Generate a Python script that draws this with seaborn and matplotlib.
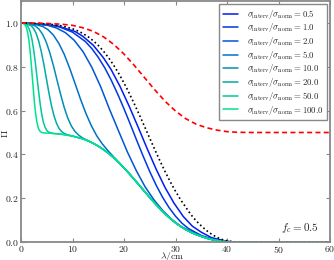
import pandas as pd
import seaborn as sns
from matplotlib import pyplot as plt

# curve labels (sigma_interv / sigma_norm)
ratios = [0.5, 1.0, 2.0, 5.0, 10.0, 20.0, 50.0, 100.0]

# values, one list pair per curve
lam_r0p5 = [0, 7, 10.5, 12, 14, 16, 17.5, 19.25, 21, 22.75, 24.5, 26.25, 28, 29.75, 31.5, 33.25, 35, 37, 40]
pi_r0p5 = [1.0, 0.987, 0.961, 0.939, 0.899, 0.841, 0.787, 0.709, 0.620, 0.524, 0.426, 0.332, 0.2475,
           0.176, 0.117, 0.073, 0.045, 0.020, 0.003]

lam_r1 = [0, 5, 7.5, 10, 12.5, 13.75, 15, 16.25, 17.5, 18.75, 20, 21.25, 22.5, 23.75, 25, 26.25, 27.5,
          28.75, 30, 31.25, 32.5, 35, 37.5]
pi_r1 = [1.0, 0.993, 0.9815, 0.958, 0.915, 0.883, 0.843, 0.7955, 0.7396, 0.6765, 0.608, 0.536, 0.462, 0.390,
         0.3215, 0.259, 0.204, 0.157, 0.118, 0.086, 0.062, 0.030, 0.0105]

lam_r2 = [0, 3.44, 5.16, 6.88, 8.6, 10.32, 12.04, 13.76, 15.48, 17.2, 18.92, 20.64, 22.36, 24.08, 25.8,
          27.52, 29.24, 30.96, 34.4]
pi_r2 = [1.0, 0.995, 0.989, 0.977, 0.956, 0.921, 0.869, 0.797, 0.708, 0.605, 0.508, 0.412, 0.327, 0.2525,
         0.193, 0.144, 0.104, 0.0726, 0.031]

lam_r5 = [0, 2.1, 4.2, 5.25, 6.3, 7.35, 8.4, 9.45, 10.5, 11.55, 12.6, 13.65, 14.7, 15.75, 16.8, 17.85, 18.9, 21]
pi_r5 = [1.0, 0.997, 0.984, 0.969, 0.944, 0.9066, 0.856, 0.793, 0.723, 0.652, 0.587, 0.531, 0.485, 0.449,
         0.419, 0.392, 0.3665, 0.3127]

lam_r10 = [0, 1.39, 2.78, 3.48, 4.18, 4.87, 5.57, 6.26, 6.96, 7.66, 8.35, 9.05, 9.74, 10.44, 11.14, 11.83,
           12.53, 13.92]
pi_r10 = [1.0, 0.997, 0.986, 0.972, 0.9485, 0.914, 0.8656, 0.8073, 0.7418, 0.6765, 0.617, 0.5677, 0.531,
          0.506, 0.489, 0.477, 0.468, 0.452]

lam_r20 = [0, 0.98, 1.97, 2.46, 2.95, 3.44, 3.94, 4.43, 4.92, 5.41, 5.9, 6.4, 6.89, 7.38, 7.87, 8.36, 8.86, 9.84]
pi_r20 = [1.0, 0.998, 0.987, 0.974, 0.951, 0.9165, 0.868, 0.811, 0.7464, 0.6816, 0.6234, 0.5762, 0.542,
          0.5187, 0.5044, 0.496, 0.4909, 0.4845]

lam_r50 = [0, 0.62, 1.24, 1.56, 1.87, 2.18, 2.49, 2.8, 3.11, 3.42, 3.73, 4.04, 4.35, 4.67, 4.98, 5.29, 5.6, 6.22]
pi_r50 = [1.0, 0.998, 0.988, 0.974, 0.952, 0.918, 0.871, 0.814, 0.75, 0.686, 0.628, 0.580, 0.546, 0.524,
          0.5098, 0.5028, 0.4995, 0.496]

lam_r100 = [0, 0.44, 0.88, 1.1, 1.32, 1.54, 1.76, 1.98, 2.2, 2.42, 2.64, 2.86, 3.08, 3.3, 3.52, 3.74, 3.96, 4.4]
pi_r100 = [1.0, 0.998, 0.988, 0.974, 0.952, 0.918, 0.871, 0.814, 0.75, 0.686, 0.628, 0.582, 0.548, 0.525,
           0.5115, 0.5043, 0.501, 0.498]

# common lower branch (f_c part) the curves run into
lam_tail = [6, 8, 10, 12, 13, 14, 15, 16, 17, 18, 19, 20, 21, 22, 23, 24, 25, 26, 27, 28, 29, 30, 31, 32,
            33, 34, 35, 36, 37, 38, 39, 40, 41, 42, 45, 50, 60]
pi_tail = [0.496, 0.4916, 0.4838, 0.4709, 0.4619, 0.4509, 0.4377, 0.4224, 0.4046, 0.3846, 0.3624, 0.3383,
           0.3127, 0.2859, 0.2583, 0.2307, 0.2034, 0.1769, 0.1518, 0.1284, 0.1071, 0.088, 0.0713, 0.0568,
           0.0445, 0.0343, 0.026, 0.018, 0.012, 0.0075, 0.004, 0.002, 0.001, 0.0003, 0.0, 0.0, 0.0]

# no interference (dotted)
lam_plain = [0, 2, 4, 6, 8, 10, 11, 12, 13, 14, 15, 16, 17, 18, 19, 20, 21, 22, 23, 24, 25, 26, 27, 28, 29,
             30, 31, 32, 33, 34, 35, 36, 37, 38, 39, 40, 41, 42, 45, 50, 60]
pi_plain = [1.0, 0.9987, 0.9969, 0.9932, 0.9861, 0.9734, 0.9641, 0.9522, 0.9374, 0.9192, 0.8974, 0.8714,
            0.8413, 0.8069, 0.7683, 0.7257, 0.6797, 0.6306, 0.5793, 0.5266, 0.4734, 0.4207, 0.3694, 0.3203,
            0.2743, 0.2317, 0.1931, 0.1587, 0.125, 0.097, 0.074, 0.053, 0.036, 0.022, 0.012, 0.006, 0.002,
            0.0005, 0.0, 0.0, 0.0]

# red dashed
lam_fc = [0, 4, 8, 10, 12, 14, 16, 18, 20, 22, 24, 26, 28, 30, 32, 34, 36, 38, 40, 42, 45, 50, 60]
pi_fc = [1.0, 0.999, 0.994, 0.989, 0.978, 0.962, 0.937, 0.902, 0.858, 0.806, 0.75, 0.694, 0.642, 0.598,
         0.563, 0.538, 0.522, 0.511, 0.504, 0.501, 0.5, 0.5, 0.5]

curves = {
    0.5: (lam_r0p5, pi_r0p5), 1.0: (lam_r1, pi_r1), 2.0: (lam_r2, pi_r2), 5.0: (lam_r5, pi_r5),
    10.0: (lam_r10, pi_r10), 20.0: (lam_r20, pi_r20), 50.0: (lam_r50, pi_r50), 100.0: (lam_r100, pi_r100),
}

rows = []
for r in ratios:
    lam, pi = curves[r]
    label = r'$\sigma_{\rm interv}/\sigma_{\rm norm} = %.1f$' % r
    for l, p in zip(lam, pi):
        rows.append((label, l, p))
    for l, p in zip(lam_tail, pi_tail):
        if l > lam[-1]:
            rows.append((label, l, p))
df = pd.DataFrame(rows, columns=['curve', 'lam', 'pi'])
labels = list(dict.fromkeys(df['curve']))

sns.set_style('ticks')
plt.rcParams['mathtext.fontset'] = 'cm'
plt.rcParams['font.family'] = ['DejaVu Serif']

fig = plt.figure(figsize=(3.34, 2.60), dpi=100)
ax = fig.add_axes([0.063, 0.069, 0.925, 0.927])

palette = sns.color_palette('winter', len(ratios))
sns.lineplot(data=df, x='lam', y='pi', hue='curve', hue_order=labels, palette=palette,
             estimator=None, sort=True, lw=1.1, ax=ax)
sns.lineplot(x=lam_plain, y=pi_plain, color='black', lw=1.2, linestyle=(0, (1, 1.6)), ax=ax)
sns.lineplot(x=lam_fc, y=pi_fc, color='red', lw=1.2, linestyle=(0, (3, 2)), ax=ax)

ax.set_xlim(0, 60)
ax.set_ylim(0, 1.1)
ax.set_xticks(range(0, 61, 10))
ax.set_xticklabels(['$%d$' % v for v in range(0, 61, 10)], fontsize=7)
ax.set_yticks([0.0, 0.2, 0.4, 0.6, 0.8, 1.0])
ax.set_yticklabels(['$%.1f$' % v for v in [0.0, 0.2, 0.4, 0.6, 0.8, 1.0]], fontsize=7)
ax.tick_params(direction='in', top=True, right=True, length=3, width=0.8, color='#888888', pad=1.5)
for s in ax.spines.values():
    s.set_color('#888888')
    s.set_linewidth(1.3)

ax.set_xlabel(r'$\lambda/{\rm cm}$', fontsize=7)
ax.xaxis.set_label_coords(0.49, -0.035)
ax.set_ylabel(r'$\Pi$', fontsize=7)
ax.yaxis.set_label_coords(-0.035, 0.45)
ax.text(54.2, 0.064, r'$f_c = 0.5$', fontsize=8, ha='center', va='center')

leg = ax.legend(loc='upper right', fontsize=6.3, frameon=True, fancybox=False, framealpha=1,
                edgecolor='#888888', handlelength=1.7, borderaxespad=0.3, labelspacing=0.08,
                handletextpad=1.0, borderpad=0.45)
leg.get_frame().set_linewidth(1.0)

fig.savefig('out.png', dpi=100)
